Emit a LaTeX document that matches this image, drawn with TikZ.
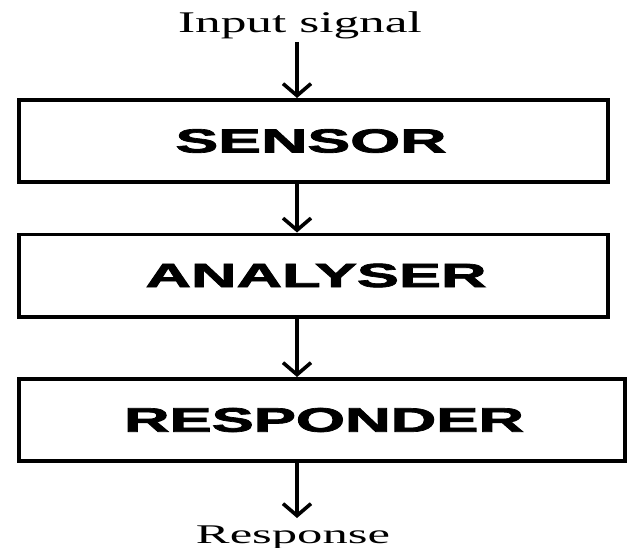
\documentclass[tikz,border=0pt]{standalone}
\usepackage{fontspec}
\setmainfont{Liberation Serif}
\setsansfont{Liberation Sans}
\newfontfamily\heavyfont[FakeBold=2]{Liberation Sans Bold}
\usetikzlibrary{arrows.meta,calc}
\newcommand{\fitlabel}[3]{\resizebox{#1pt}{\height}{\fontsize{#2}{#2}\selectfont #3}}
\tikzset{
  blockbox/.style={draw=black, line width=3.6pt, inner sep=0pt, minimum height=82.4pt, fill=white},
  flowarrow/.style={line width=3.6pt, -{Straight Barb[length=12pt,width=28pt]}},
  plainlabel/.style={inner sep=0pt, anchor=base}
}
\begin{document}
\begin{tikzpicture}[x=1pt,y=-1pt]
\useasboundingbox[fill=white] (0,0) rectangle (629,548);
\node[blockbox, minimum width=589.4pt] (sensor) at (313.5,141)
  {\hspace*{-5pt}\fitlabel{271}{33.5}{\heavyfont SENSOR}};
\node[blockbox, minimum width=589.4pt] (analyser) at (313.5,275.5)
  {\hspace*{5pt}\fitlabel{341}{33.5}{\heavyfont ANALYSER}};
\node[blockbox, minimum width=606.4pt] (responder) at (322,420)
  {\hspace*{4pt}\fitlabel{400}{34}{\heavyfont RESPONDER}};
\node[plainlabel] (input) at (300,33) {\fitlabel{244}{30}{Input signal}};
\node[plainlabel] (response) at (293,543) {\fitlabel{194}{27}{Response}};
\coordinate (inTop) at (297,42);
\coordinate (outEnd) at (297,518);
\draw[flowarrow] (inTop) -- (inTop |- sensor.north);
\draw[flowarrow] (sensor.south -| inTop) -- (analyser.north -| inTop);
\draw[flowarrow] (analyser.south -| inTop) -- (responder.north -| inTop);
\draw[flowarrow] (responder.south -| inTop) -- (outEnd);
\end{tikzpicture}
\end{document}
